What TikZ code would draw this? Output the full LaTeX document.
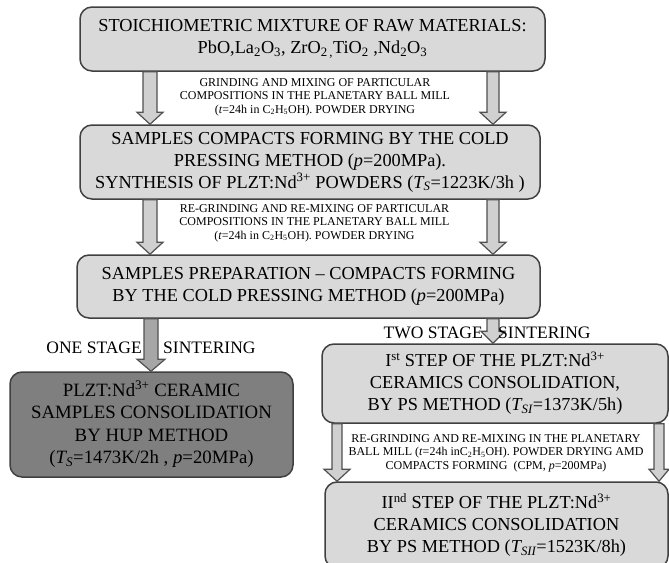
\documentclass[tikz,border=0pt]{standalone}
\usepackage{fontspec}
\setmainfont{Liberation Serif}
\usetikzlibrary{calc}
\definecolor{boxline}{HTML}{404040}
\definecolor{boxfill}{HTML}{D9D9D9}
\definecolor{darkfill}{HTML}{7F7F7F}
\definecolor{arrowline}{HTML}{505050}
\definecolor{arrowfill}{HTML}{D0D0D0}
\tikzstyle{stage box}  = [draw=boxline,line width=1.5,rounded corners=12,fill=boxfill,align=center,inner sep=0,font=\fontsize{18.3}{22}\selectfont]
\tikzstyle{dark box}   = [stage box,fill=darkfill,font=\fontsize{18.8}{22.6}\selectfont]
\tikzstyle{note}       = [align=center,inner sep=0,font=\fontsize{12}{13.5}\selectfont]
\tikzstyle{stage label}= [inner sep=0,font=\fontsize{17.5}{20}\selectfont]
\tikzstyle{block arrow}= [draw=arrowline,line width=1.2,fill=arrowfill,line join=miter]
% block arrow: [opts]{x}{from node}{to node}{shaft half width}{head half width}
\newcommand{\blockarrow}[6][]{%
  \draw[block arrow,#1] let \p1=(#3.south), \p2=(#4.north) in
    ({#2-#5},\y1) -- ({#2+#5},\y1) -- ({#2+#5},\y2+12) -- ({#2+#6},\y2+12)
    -- (#2,\y2) -- ({#2-#6},\y2+12) -- ({#2-#5},\y2+12) -- cycle;}

\begin{document}
\begin{tikzpicture}[x=1pt,y=1pt]
    \useasboundingbox (0,0) rectangle (669,-562);

    % Raw materials
    \node(mix)[stage box, minimum width=465, minimum height=64] at (312.5,-39)
        {STOICHIOMETRIC MIXTURE OF RAW MATERIALS:\\
         PbO,La\textsubscript{2}O\textsubscript{3}, ZrO\textsubscript{2\,,}TiO\textsubscript{2} ,Nd\textsubscript{2}O\textsubscript{3}};
    % Powder synthesis
    \node(synth)[stage box, minimum width=460, minimum height=74] at (310,-162)
        {SAMPLES COMPACTS FORMING BY THE COLD\\
         PRESSING METHOD (\textit{p}=200MPa).\\
         SYNTHESIS OF PLZT:Nd\textsuperscript{3+} POWDERS (\textit{T\textsubscript{S}}=1223K/3h )};
    % Compacts forming
    \node(press)[stage box, minimum width=463, minimum height=63] at (308.5,-286.5)
        {SAMPLES PREPARATION -- COMPACTS FORMING\\
         BY THE COLD PRESSING METHOD (\textit{p}=200MPa)};
    % One stage sintering
    \node(hup)[dark box, minimum width=283, minimum height=105] at (151.5,-424.5)
        {PLZT:Nd\textsuperscript{3+} CERAMIC\\
         SAMPLES CONSOLIDATION\\
         BY HUP METHOD\\
         (\textit{T\textsubscript{S}}=1473K/2h , \textit{p}=20MPa)};
    % Two stage sintering
    \node(ps1)[stage box, minimum width=346, minimum height=79] at (495,-383.5)
        {I\textsuperscript{st} STEP OF THE PLZT:Nd\textsuperscript{3+}\\
         CERAMICS CONSOLIDATION,\\
         BY PS METHOD (\textit{T\textsubscript{SI}}=1373K/5h)};
    \node(ps2)[stage box, minimum width=343, minimum height=86] at (496.5,-525)
        {II\textsuperscript{nd} STEP OF THE PLZT:Nd\textsuperscript{3+}\\
         CERAMICS CONSOLIDATION\\
         BY PS METHOD (\textit{T\textsubscript{SII}}=1523K/8h)};

    % Arrows between the stages
    \blockarrow{150}{mix}{synth}{7}{13}
    \blockarrow{493}{mix}{synth}{6}{13}
    \blockarrow{150}{synth}{press}{7}{13}
    \blockarrow{493}{synth}{press}{6}{13}
    \blockarrow[fill=arrowfill!80!black]{151}{press}{hup}{7}{14}
    \blockarrow{493}{press}{ps1}{6}{12}
    \blockarrow{337}{ps1}{ps2}{5}{13}
    \blockarrow{659}{ps1}{ps2}{5}{10}

    % Process notes
    \node(grind)[note] at (315,-97)
        {GRINDING AND MIXING OF PARTICULAR\\
         COMPOSITIONS IN THE PLANETARY BALL MILL\\
         (\textit{t}=24h in C\textsubscript{2}H\textsubscript{5}OH). POWDER DRYING};
    \node(regrind)[note] at (314.5,-223)
        {RE-GRINDING AND RE-MIXING OF PARTICULAR\\
         COMPOSITIONS IN THE PLANETARY BALL MILL\\
         (\textit{t}=24h in C\textsubscript{2}H\textsubscript{5}OH). POWDER DRYING};
    \node(remill)[note] at (496,-453)
        {RE-GRINDING AND RE-MIXING IN THE PLANETARY\\
         BALL MILL (\textit{t}=24h inC\textsubscript{2}H\textsubscript{5}OH). POWDER DRYING AMD\\
         COMPACTS FORMING\ \ (CPM, \textit{p}=200MPa)};

    % Sintering labels
    \node(one)[stage label, anchor=east] at (142,-348) {ONE STAGE};
    \node(sint1)[stage label, anchor=west] at (163,-348) {SINTERING};
    \node(two)[stage label, anchor=east] at (483,-333) {TWO STAGE};
    \node(sint2)[stage label, anchor=west] at (498,-333) {SINTERING};

\end{tikzpicture}
\end{document}
